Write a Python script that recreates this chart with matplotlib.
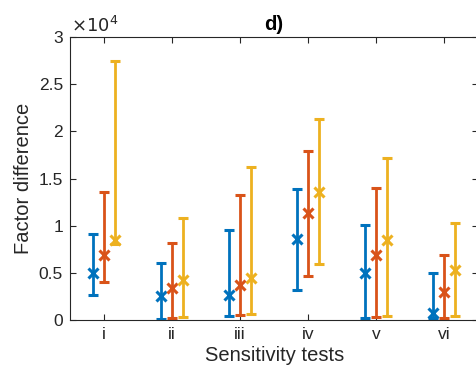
import numpy as np
import matplotlib.pyplot as plt
from matplotlib.ticker import FuncFormatter

plt.rcParams['font.family'] = ['Liberation Sans', 'DejaVu Sans']

tests = ["i", "ii", "iii", "iv", "v", "vi"]

# centre value, lower end, upper end (units of 1e4)
blue_mid = [0.50, 0.258, 0.265, 0.855, 0.495, 0.078]
blue_lo = [0.27, 0.007, 0.04, 0.318, 0.025, 0.018]
blue_hi = [0.91, 0.604, 0.95, 1.39, 1.007, 0.495]

orange_mid = [0.686, 0.343, 0.37, 1.137, 0.686, 0.293]
orange_lo = [0.40, 0.02, 0.05, 0.47, 0.035, 0.025]
orange_hi = [1.354, 0.82, 1.33, 1.79, 1.40, 0.69]

yellow_mid = [0.848, 0.424, 0.45, 1.353, 0.848, 0.53]
yellow_lo = [0.81, 0.03, 0.06, 0.59, 0.04, 0.04]
yellow_hi = [2.75, 1.085, 1.625, 2.127, 1.714, 1.03]

series = [
    (blue_mid, blue_lo, blue_hi, "#0072BD", -0.16),
    (orange_mid, orange_lo, orange_hi, "#D95319", 0.0),
    (yellow_mid, yellow_lo, yellow_hi, "#EDB120", 0.16),
]

fig = plt.figure(figsize=(4.76, 3.86), dpi=100)
ax = fig.add_axes([0.147, 0.171, 0.858, 0.733])

x = np.arange(1, len(tests) + 1)
for mid, lo, hi, col, off in series:
    mid = np.array(mid) * 1e4
    lo = np.array(lo) * 1e4
    hi = np.array(hi) * 1e4
    ax.errorbar(x + off, mid, yerr=[mid - lo, hi - mid], fmt="x", color=col,
                ecolor=col, elinewidth=2, capsize=3.5, capthick=2,
                markersize=7, markeredgewidth=2.2)

ax.set_xlim(0.5, 6.5)
ax.set_ylim(0, 3e4)
ax.set_xticks(x)
ax.set_xticklabels(tests)
ax.set_yticks(np.arange(0, 3.01e4, 0.5e4))
ax.yaxis.set_major_formatter(FuncFormatter(lambda v, p: f"{v / 1e4:g}"))

ax.tick_params(direction="in", length=4, width=0.8, colors="#262626",
               labelsize=12.5, top=True, right=True, pad=5)
for s in ax.spines.values():
    s.set_color("#262626")
    s.set_linewidth(0.8)

ax.set_xlabel("Sensitivity tests", fontsize=14.5, color="#262626", labelpad=3)
ax.set_ylabel("Factor difference", fontsize=14.5, color="#262626", labelpad=4)
ax.set_title("d)", fontsize=14.5, fontweight="bold", color="black", pad=5)
ax.text(0.002, 1.004, r"$\times10^{4}$", transform=ax.transAxes, fontsize=13,
        color="#262626", ha="left", va="bottom")

fig.savefig("out.png", dpi=100)
